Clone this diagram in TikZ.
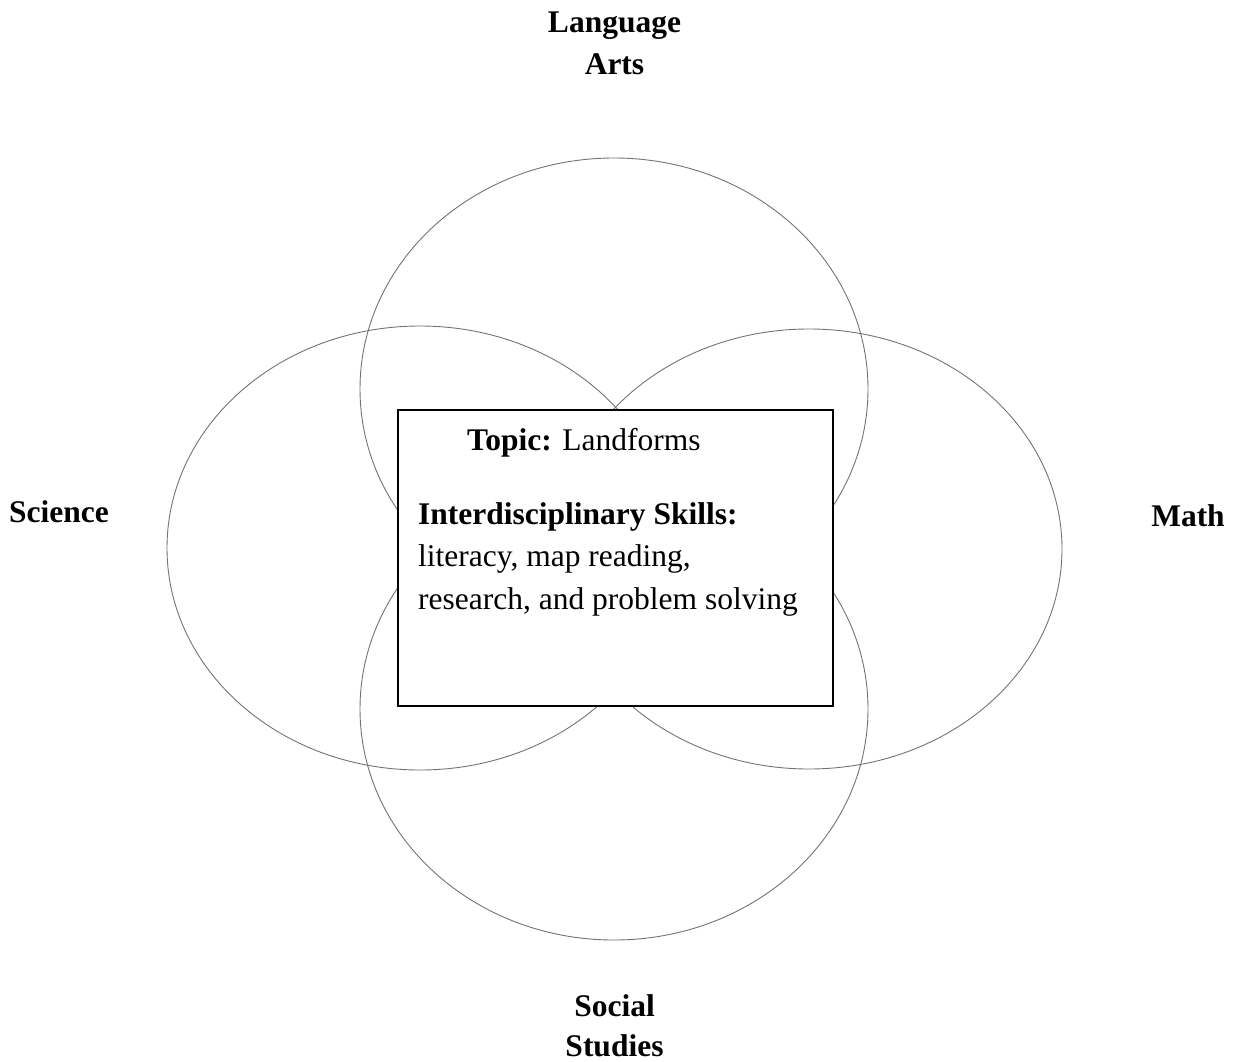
\documentclass[tikz,border=0pt]{standalone}
\usepackage{fontspec}
\setmainfont{Liberation Serif}
\begin{document}
\begin{tikzpicture}[x=1pt,y=-1pt,
  ring/.style={draw=black!55,line width=0.9pt},
  subj/.style={font=\fontsize{31.5}{42}\selectfont\bfseries,anchor=base,inner sep=0pt},
  body/.style={font=\fontsize{31.5}{42}\selectfont,anchor=base west,inner sep=0pt},
  topicbox/.style={draw=black,line width=1.8pt,fill=white}]
\useasboundingbox (0,0) rectangle (1237,1062);
% ellipses
\draw[ring] (614,389) ellipse [x radius=254pt, y radius=231pt];
\draw[ring] (614,709) ellipse [x radius=254pt, y radius=231pt];
\draw[ring] (420,548) ellipse [x radius=253pt, y radius=222pt];
\draw[ring] (809,549) ellipse [x radius=253pt, y radius=220pt];
% central box
\draw[topicbox] (398,410) rectangle (833,706);
\node[body] (topic) at (467,450) {\textbf{Topic:} Landforms};
\node[body] (skills) at (418,524) {\textbf{Interdisciplinary Skills:}};
\node[body] (l1) at (418,566) {literacy, map reading,};
\node[body] (l2) at (418,609) {research, and problem solving};
% subject labels
\node[subj] (la1) at (614.5,33) {Language};
\node[subj] (la2) at (614.5,75) {Arts};
\node[subj] (sci) at (59,522) {Science};
\node[subj] (math) at (1188,526) {Math};
\node[subj] (ss1) at (614.5,1016) {Social};
\node[subj] (ss2) at (614.5,1056) {Studies};
\end{tikzpicture}
\end{document}
